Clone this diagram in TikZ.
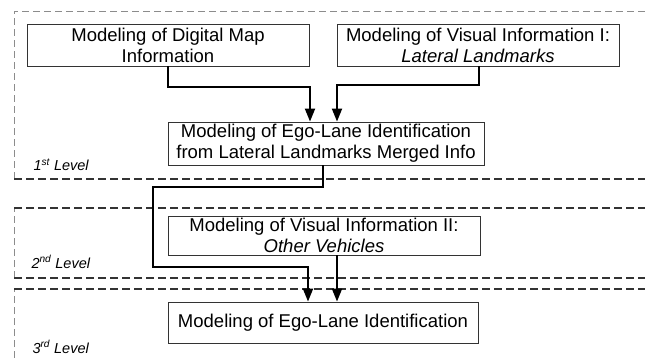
\documentclass[tikz,border=0pt]{standalone}
\usepackage{fontspec}
\setmainfont{Liberation Sans}
\usetikzlibrary{arrows.meta,calc}

\begin{document}
\begin{tikzpicture}[x=1pt,y=-1pt,
  stage/.style={draw=black!80,line width=0.9pt,fill=white,inner sep=2pt,
    align=center,font=\fontsize{18.5}{21}\selectfont},
  flow/.style={line width=2pt,line join=miter,
    -{Triangle[length=13pt,width=10pt]}},
  frameline/.style={draw=black!45,line width=0.8pt,dash pattern=on 7pt off 4pt},
  sepline/.style={draw=black!80,line width=1.3pt,dash pattern=on 8pt off 4pt},
  levelname/.style={anchor=base west,font=\fontsize{14.5}{16}\selectfont\itshape}]

\useasboundingbox (0,0) rectangle (645,358);

% level frames: light outer border and darker separators
\draw[frameline] (14,179) -- (14,11) -- (645,11);
\draw[frameline] (14,278) -- (14,208);
\draw[frameline] (14,358) -- (14,289);
\draw[sepline] (14,179) -- (645,179);
\draw[sepline] (14,208) -- (645,208);
\draw[sepline] (14,278) -- (645,278);
\draw[sepline] (14,289) -- (645,289);

\node[levelname] (l1) at (30,171) {1\textsuperscript{st} Level};
\node[levelname] (l2) at (28,268) {2\textsuperscript{nd} Level};
\node[levelname] (l3) at (29,353) {3\textsuperscript{rd} Level};

% processing stages
\node[stage,minimum width=282pt,minimum height=42pt] (map) at (168,45)
  {Modeling of Digital Map\\Information};
\node[stage,minimum width=282pt,minimum height=42pt] (vis1) at (478,45)
  {Modeling of Visual Information I:\\\textit{Lateral Landmarks}};
\node[stage,minimum width=316pt,minimum height=43pt] (merge) at (326,143.5)
  {Modeling of Ego-Lane Identification\\from Lateral Landmarks Merged Info};
\node[stage,minimum width=312pt,minimum height=39pt] (vis2) at (324,235.5)
  {Modeling of Visual Information II:\\\textit{Other Vehicles}};
\node[stage,minimum width=310pt,minimum height=41pt] (ego) at (323,322.5)
  {Modeling of Ego-Lane Identification};

% connectors
\draw[flow] (map.south) |- (310,87) -- (310,0 |- merge.north);
\draw[flow] ([xshift=1pt]vis1.south) |- (337,85) -- (337,0 |- merge.north);
\draw[flow] ([xshift=-3pt]merge.south) |- (153,187) |- (308,267) -- (308,0 |- ego.north);
\draw[flow] ([xshift=13pt]vis2.south) -- ([xshift=14pt]ego.north);
\end{tikzpicture}
\end{document}
